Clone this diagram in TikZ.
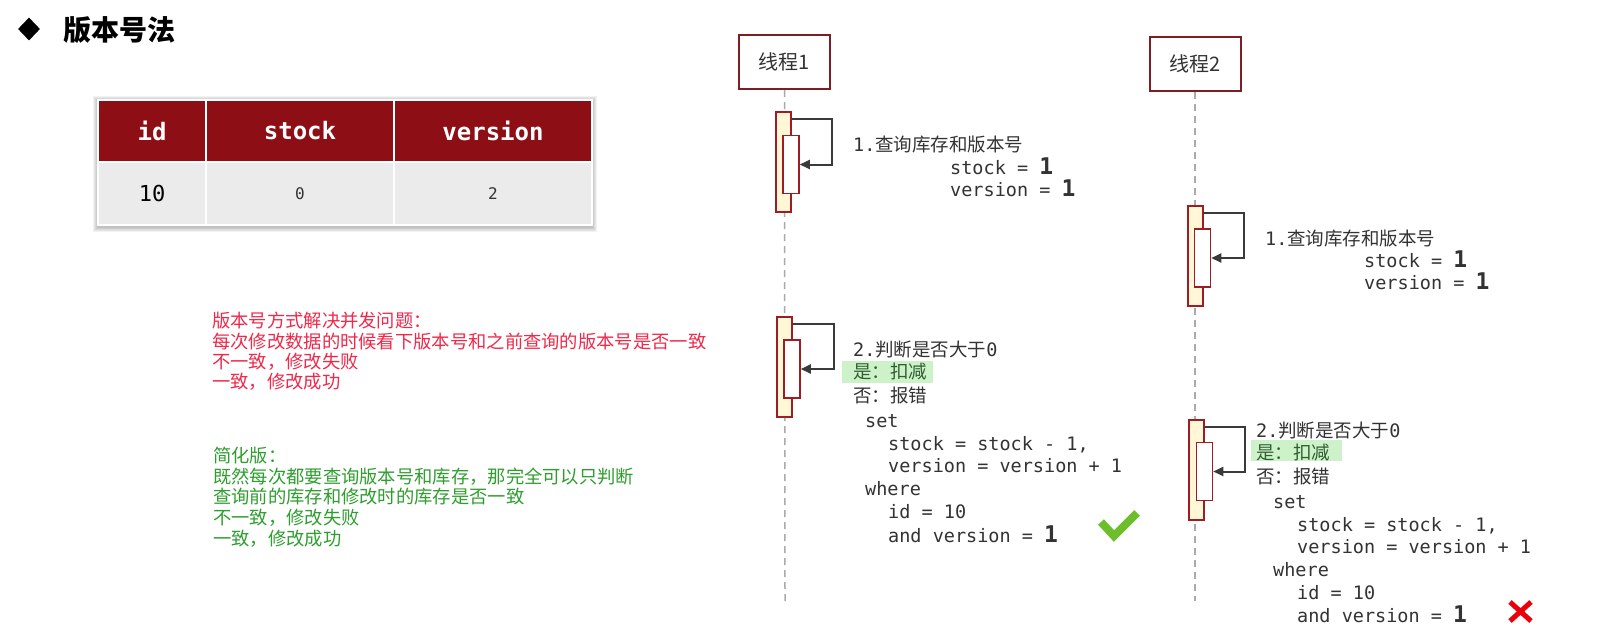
\documentclass[tikz,border=0pt]{standalone}
\usepackage{fontspec}
\newfontfamily\cjk{Noto Sans CJK SC}
\newfontfamily\mono{DejaVu Sans Mono}
\usetikzlibrary{shapes.geometric,arrows.meta}
\newcommand\myfs[1]{\fontsize{#1}{#1}\selectfont}
\newcommand\bigone{{\bfseries\myfs{23}1}}
\definecolor{hdrred}{HTML}{8E0E16}
\definecolor{rowgray}{HTML}{EBEBEB}
\definecolor{boxred}{HTML}{7E1E24}
\definecolor{actred}{HTML}{A01C24}
\definecolor{actfill}{HTML}{FFF7D6}
\definecolor{lifegray}{HTML}{AAAAAA}
\definecolor{txt}{HTML}{333333}
\definecolor{redtxt}{HTML}{F0284A}
\definecolor{greentxt}{HTML}{2E9E2E}
\definecolor{hlgreen}{HTML}{CDF2C9}
\definecolor{hltext}{HTML}{2F5F2F}
\definecolor{checkgreen}{HTML}{6CBF2A}
\definecolor{crossred}{HTML}{E8000B}
\definecolor{arrgray}{HTML}{3A3A3A}
\tikzset{
  hcell/.style={fill=hdrred, draw=white, line width=2pt, minimum height=62pt, inner sep=0, text=white, font=\mono\bfseries\myfs{24}},
  dcell/.style={fill=rowgray, draw=white, line width=2pt, minimum height=63pt, inner sep=0},
  thread/.style={draw=boxred, line width=2pt, fill=white, minimum width=91pt, minimum height=54pt, inner sep=0, text=txt, font=\cjk\myfs{20}},
  life/.style={draw=lifegray, line width=1.5pt, dash pattern=on 7pt off 5pt},
  actout/.style={draw=actred, line width=1.5pt, fill=actfill, minimum width=15pt, minimum height=100pt, inner sep=0},
  actin/.style={draw=actred, line width=1.5pt, fill=white, minimum width=16pt, minimum height=58pt, inner sep=0},
  selfarr/.style={draw=arrgray, line width=2pt, -{Triangle[length=10pt,width=9pt]}},
  seq/.style={anchor=base west, inner sep=0, text=txt, font=\mono\myfs{18.5}},
  hlbox/.style={fill=hlgreen, draw=none, inner sep=0},
  note/.style={anchor=base west, inner sep=0, font=\cjk\myfs{18.3}},
}
\begin{document}
\begin{tikzpicture}[x=1pt,y=-1pt]
\useasboundingbox (0,0) rectangle (1597,630);
\fill[white] (0,0) rectangle (1597,630);

% title
\node[diamond, fill=black, minimum width=22pt, minimum height=23pt, inner sep=0] (bullet) at (29,29) {};
\node[anchor=base west, inner sep=0, font=\cjk\bfseries\myfs{28}] (title) at (63,40) {版本号法};

% table shadow
\foreach \i in {1,...,5}
  \fill[black, opacity=0.05] (98-\i,101-\i) rectangle (592+\i,227+\i);
% table
\node[hcell, minimum width=108pt] (hid) at (152,131) {id};
\node[hcell, minimum width=188pt] (hstock) at (300,131) {stock};
\node[hcell, minimum width=198pt] (hver) at (493,131) {version};
\node[dcell, minimum width=108pt, font=\mono\myfs{22}, text=black] (did) at (152,193.5) {10};
\node[dcell, minimum width=188pt, font=\mono\myfs{16}, text=txt] (dstock) at (300,193.5) {0};
\node[dcell, minimum width=198pt, font=\mono\myfs{16}, text=txt] (dver) at (493,193.5) {\raisebox{-4pt}{2}};

% notes
\node[note, text=redtxt] (r1) at (212,327) {版本号方式解决并发问题：};
\node[note, text=redtxt] (r2) at (212,348) {每次修改数据的时候看下版本号和之前查询的版本号是否一致};
\node[note, text=redtxt] (r3) at (212,368) {不一致，修改失败};
\node[note, text=redtxt] (r4) at (212,388) {一致，修改成功};
\node[note, text=greentxt] (g1) at (213,462) {简化版：};
\node[note, text=greentxt] (g2) at (213,483) {既然每次都要查询版本号和库存，那完全可以只判断};
\node[note, text=greentxt] (g3) at (213,503) {查询前的库存和修改时的库存是否一致};
\node[note, text=greentxt] (g4) at (213,524) {不一致，修改失败};
\node[note, text=greentxt] (g5) at (213,545) {一致，修改成功};

% threads and lifelines
\node[thread] (th1) at (784.5,62) {线程1};
\node[thread] (th2) at (1195,64) {线程2};
\coordinate (end1) at (785,601);
\coordinate (end2) at (1195,601);
\draw[life] (th1) -- (end1);
\draw[life] (th2) -- (end2);

% thread 1 activations
\node[actout] (a1o) at (783.5,162) {};
\node[actin] (a1i) at (791,164.5) {};
\draw[selfarr] ([yshift=-8pt]a1o.north east) -- ++(40,0) |- (a1i.east);
\node[actout] (a2o) at (784.5,367) {};
\node[actin] (a2i) at (792,369) {};
\draw[selfarr] ([yshift=-8pt]a2o.north east) -- ++(41,0) |- (a2i.east);

% thread 2 activations
\node[actout] (b1o) at (1195.5,256) {};
\node[actin] (b1i) at (1202.5,258) {};
\draw[selfarr] ([yshift=-8pt]b1o.north east) -- ++(40,0) |- (b1i.east);
\node[actout] (b2o) at (1196.5,470) {};
\node[actin] (b2i) at (1204.5,471.5) {};
\draw[selfarr] ([yshift=-8pt]b2o.north east) -- ++(40,0) |- (b2i.east);

% thread 1 texts
\node[seq] (t1q) at (853,151) {1.{\cjk 查询库存和版本号}};
\node[seq] (t1s) at (950,174) {stock = \bigone};
\node[seq] (t1v) at (950,196) {version = \bigone};
\node[hlbox, minimum width=91pt, minimum height=22pt] (hl1) at (887.5,372) {};
\node[seq] (t1j) at (853,356) {2.{\cjk 判断是否大于}0};
\node[seq, text=hltext] (t1y) at (853,378) {\cjk 是：扣减};
\node[seq] (t1n) at (853,402) {\cjk 否：报错};
\node[seq] (t1set) at (865,427) {set};
\node[seq] (t1st) at (888,450) {stock = stock - 1,};
\node[seq] (t1ve) at (888,472) {version = version + 1};
\node[seq] (t1wh) at (865,495) {where};
\node[seq] (t1id) at (888,518) {id = 10};
\node[seq] (t1an) at (888,542) {and version = \bigone};

% thread 2 texts
\node[seq] (t2q) at (1265,245) {1.{\cjk 查询库存和版本号}};
\node[seq] (t2s) at (1364,267) {stock = \bigone};
\node[seq] (t2v) at (1364,289) {version = \bigone};
\node[hlbox, minimum width=91pt, minimum height=21pt] (hl2) at (1296.5,450.5) {};
\node[seq] (t2j) at (1256,437) {2.{\cjk 判断是否大于}0};
\node[seq, text=hltext] (t2y) at (1256,459) {\cjk 是：扣减};
\node[seq] (t2n) at (1256,483) {\cjk 否：报错};
\node[seq] (t2set) at (1273,508) {set};
\node[seq] (t2st) at (1297,531) {stock = stock - 1,};
\node[seq] (t2ve) at (1297,553) {version = version + 1};
\node[seq] (t2wh) at (1273,576) {where};
\node[seq] (t2id) at (1297,599) {id = 10};
\node[seq] (t2an) at (1297,622) {and version = \bigone};

% check and cross
\draw[checkgreen, line width=8pt] (1101,522) -- (1114,536) -- (1137,513);
\draw[crossred, line width=5pt] (1510,602) -- (1531,621) (1531,602) -- (1510,621);
\end{tikzpicture}
\end{document}
